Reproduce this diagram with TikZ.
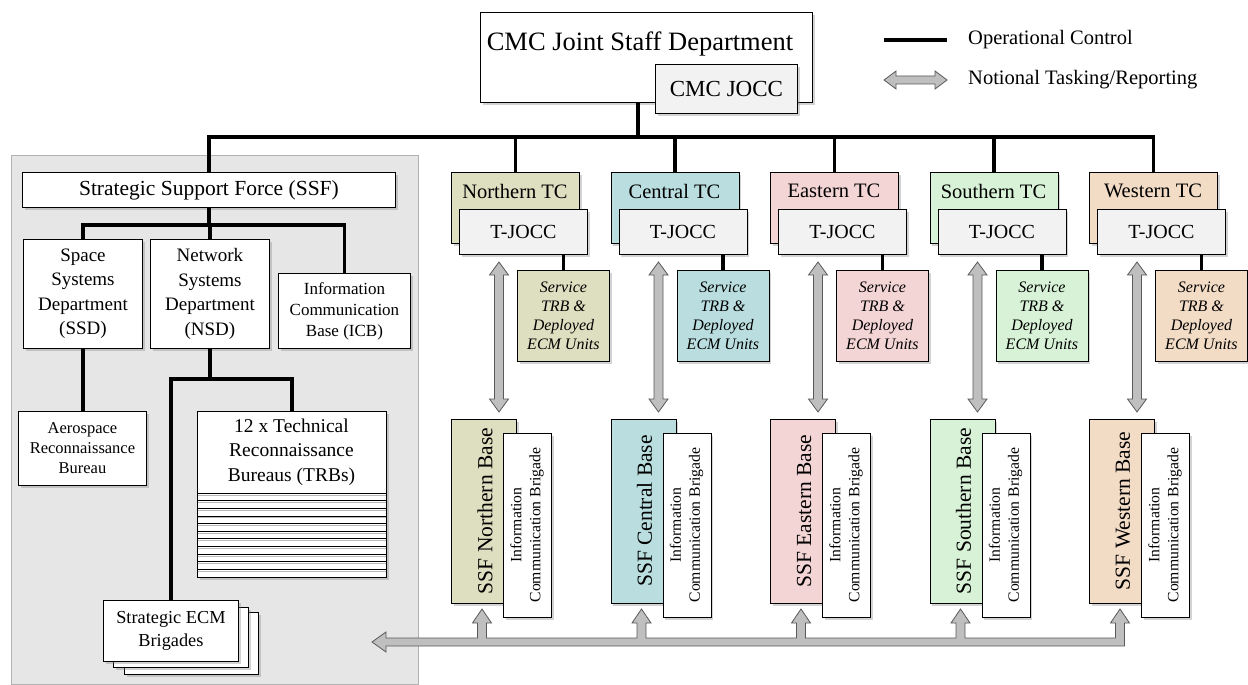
\documentclass[tikz,border=0pt]{standalone}
\usepackage{fontspec}
\setmainfont{Liberation Serif}
\usetikzlibrary{shadows,calc}
\definecolor{cN}{HTML}{DEDEC0}
\definecolor{cC}{HTML}{BADEDF}
\definecolor{cE}{HTML}{F4D5D6}
\definecolor{cS}{HTML}{D8F2D8}
\definecolor{cW}{HTML}{F2DCC6}
\definecolor{jocc}{HTML}{F2F2F2}
\definecolor{panelc}{HTML}{E6E6E6}
\definecolor{arrfill}{HTML}{BFBFBF}
\definecolor{arrdraw}{HTML}{595959}
\newcommand\fsz[2]{\fontsize{#1}{#2}\selectfont}
\begin{document}
\begin{tikzpicture}[x=1pt,y=-1pt,
  box/.style={draw=black, line width=0.9pt, fill=white, inner sep=0pt, anchor=north west, align=center,
     drop shadow={shadow xshift=2.5pt, shadow yshift=-2.5pt, opacity=0.35}},
  ctl/.style={line width=3.8pt, draw=black},
  garrow/.style={fill=arrfill, draw=arrdraw, line width=0.8pt, line join=miter},
  lbl/.style={inner sep=0pt, align=center}]
\useasboundingbox (0,0) rectangle (1248,685);

% left panel
\draw[fill=panelc, draw=gray!60, line width=0.6pt] (11,155) rectangle (418,684);

% top
\node[box, minimum width=332pt, minimum height=90pt] (cmc) at (480,12) {};
\node[lbl, font=\fsz{26.5}{30}] (cmct) at (640,44) {CMC Joint Staff Department};
\node[box, fill=jocc, minimum width=142pt, minimum height=49pt, font=\fsz{23}{26}] (cjocc) at (655,64) {CMC JOCC};
\coordinate (bus) at (638,137);

% legend
\coordinate (l1a) at (884,40);
\coordinate (l1b) at (947,40);
\draw[ctl] (l1a) -- (l1b);
\node[lbl, anchor=west, font=\fsz{20.5}{24}] (lt1) at (968,40) {Operational Control};
\draw[garrow] (884,80) -- (896,71) -- (896,76) -- (935,76) -- (935,71) -- (947,80) -- (935,89) -- (935,84) -- (896,84) -- (896,89) -- cycle;
\node[lbl, anchor=west, font=\fsz{20.5}{24}] (lt2) at (968,80) {Notional Tasking/Reporting};

% SSF side
\node[box, minimum width=373pt, minimum height=35pt, font=\fsz{21.5}{24}] (ssf) at (22,172) {Strategic Support Force (SSF)};
\node[box, minimum width=119pt, minimum height=109pt, font=\fsz{19}{24.5}] (ssd) at (23,239) {Space\\Systems\\Department\\(SSD)};
\node[box, minimum width=119pt, minimum height=109pt, font=\fsz{19}{24.5}] (nsd) at (150,239) {Network\\Systems\\Department\\(NSD)};
\node[box, minimum width=132pt, minimum height=75pt, font=\fsz{17}{21}] (icb) at (278,273) {Information\\Communication\\Base (ICB)};
\node[box, minimum width=128pt, minimum height=74pt, font=\fsz{16.5}{20}] (aero) at (18,411) {Aerospace\\Reconnaissance\\Bureau};
\node[box, minimum width=189pt, minimum height=166pt] (trb) at (197,411) {};
\foreach \k in {0,...,10} {
  \draw[line width=1pt, gray!55] (197.5,{495+7.64*\k}) -- (385.5,{495+7.64*\k});
  \draw[line width=0.8pt] (197,{493+7.64*\k}) -- (386,{493+7.64*\k});
}
\node[lbl, font=\fsz{19.5}{24.5}] (trbt) at (291.5,452) {12 x Technical\\Reconnaissance\\Bureaus (TRBs)};
\node[box, minimum width=134pt, minimum height=62pt] (ecm3) at (124,612) {};
\node[box, minimum width=135pt, minimum height=60pt] (ecm2) at (113,607) {};
\node[box, minimum width=135pt, minimum height=61pt, font=\fsz{18.3}{23}] (ecm1) at (103,600) {Strategic ECM\\Brigades};
\coordinate (sbus) at (208,225);
\coordinate (nbus) at (209,379);
\draw[ctl] (ssf.south) -- (ssf.south |- sbus);
\draw[ctl, line join=miter] (ssd.north) -- (ssd.north |- sbus) -- (icb.north |- sbus) -- (icb.north);
\draw[ctl] (nsd.north |- sbus) -- (nsd.north);
\draw[ctl] (ssd.south) -- (ssd.south |- aero.north);
\draw[ctl] (nsd.south) -- (nsd.south |- nbus);
\draw[ctl, line join=miter] (ecm1.north) -- (ecm1.north |- nbus) -- (trb.north |- nbus) -- (trb.north);

% columns
\foreach \i/\nm/\col in {0/Northern/cN,1/Central/cC,2/Eastern/cE,3/Southern/cS,4/Western/cW}{
  \pgfmathsetmacro\xo{451+159.5*\i}
  \node[box, fill=\col, minimum width=128pt, minimum height=71pt] (tc\i) at (\xo,172) {};
  \node[lbl, font=\fsz{20.5}{24}] (tct\i) at (\xo+64,191) {\nm\ TC};
  \node[box, fill=jocc, minimum width=128pt, minimum height=45pt, font=\fsz{20}{24}] (tj\i) at (\xo+8,209) {T-JOCC};
  \node[box, fill=\col, minimum width=92pt, minimum height=91pt, font={\fsz{16}{19}\itshape}] (sv\i) at (\xo+66,270) {Service\\TRB \&\\Deployed\\ECM Units};
  \node[box, fill=\col, minimum width=65pt, minimum height=184pt] (base\i) at (\xo,419) {};
  \node[lbl, rotate=90, font=\fsz{21.5}{24}] (bt\i) at (\xo+34,511) {SSF \nm\ Base};
  \node[box, minimum width=48pt, minimum height=184pt] (brig\i) at (\xo+52,433) {};
  \node[lbl, rotate=90, font=\fsz{15.7}{19}] (brt\i) at (\xo+76,525) {Information\\Communication Brigade};
  \draw[ctl] (sv\i.north) -- (sv\i.north |- tj\i.south);
  \draw[garrow] (\xo+48,262) -- (\xo+57.5,275) -- (\xo+52.5,275) -- (\xo+52.5,399) -- (\xo+57.5,399)
     -- (\xo+48,412) -- (\xo+38.5,399) -- (\xo+43.5,399) -- (\xo+43.5,275) -- (\xo+38.5,275) -- cycle;
}

% main bus
\draw[ctl] (bus |- cmc.south) -- (bus);
\draw[ctl, line join=miter] (ssf.north) -- (ssf.north |- bus) -- (tc4.north |- bus) -- (tc4.north);
\foreach \i in {0,1,2,3} \draw[ctl] (tc\i.north |- bus) -- (tc\i.north);

% bottom tasking arrow
\draw[garrow] (372,642) -- (386,632) -- (386,638)
  \foreach \u in {482,641.5,801,960.5,1120}{ -- (\u-4.5,638) -- (\u-4.5,623) -- (\u-9.5,623) -- (\u,609) -- (\u+9.5,623) -- (\u+4.5,623) -- (\u+4.5,638)}
  -- (1124.5,646) -- (386,646) -- (386,652) -- cycle;
\end{tikzpicture}
\end{document}
